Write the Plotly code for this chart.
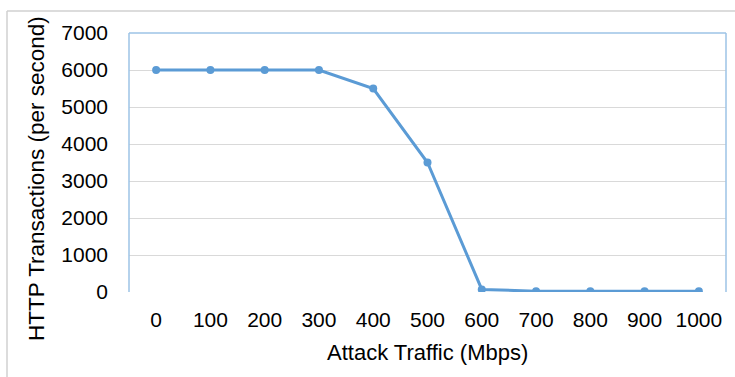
import plotly.graph_objects as go

categories = ["0", "100", "200", "300", "400", "500", "600", "700", "800", "900", "1000"]
transactions = [6000, 6000, 6000, 6000, 5500, 3500, 70, 20, 20, 20, 20]
y_ticks = [0, 1000, 2000, 3000, 4000, 5000, 6000, 7000]

W, H = 735, 377
L, R, T, B = 129, 9, 33, 85
pw, ph = W - L - R, H - T - B

def px_x(x):
    return (x - L) / pw

def px_y(y):
    return (H - B - y) / ph

fig = go.Figure()
fig.add_trace(go.Scatter(
    x=categories, y=transactions, mode="lines+markers",
    line=dict(color="#5B9BD5", width=3),
    marker=dict(color="#5B9BD5", size=8),
    showlegend=False,
))

font = dict(family="Liberation Sans, Arial, sans-serif", color="#000000")
fig.update_layout(
    width=W, height=H,
    margin=dict(l=L, r=R, t=T, b=B, autoexpand=False),
    paper_bgcolor="white", plot_bgcolor="white",
    font=font,
    xaxis=dict(
        type="category", range=[-0.5, len(categories) - 0.5],
        showgrid=False, zeroline=False, showline=False,
        tickfont=dict(size=21), ticks="", ticklabelstandoff=13,
        automargin=False,
    ),
    yaxis=dict(
        range=[0, 7000], tickvals=y_ticks, showgrid=True, gridcolor="#D9D9D9", gridwidth=1,
        zeroline=False, showline=False, tickfont=dict(size=21), ticks="",
        ticklabelstandoff=20,
        automargin=False,
    ),
    annotations=[
        dict(text="Attack Traffic (Mbps)", xref="paper", yref="paper",
             x=px_x(427), y=px_y(352), xanchor="center", yanchor="middle",
             showarrow=False, font=dict(size=22)),
        dict(text="HTTP Transactions (per second)", xref="paper", yref="paper",
             x=px_x(36), y=px_y(179), xanchor="center", yanchor="middle",
             textangle=-90, showarrow=False, font=dict(size=22.5)),
    ],
    shapes=[
        dict(type="line", xref="paper", yref="paper", x0=0, x1=0, y0=0, y1=1,
             line=dict(color="#9DC3E6", width=1.5)),
        dict(type="line", xref="paper", yref="paper", x0=0, x1=1, y0=1, y1=1,
             line=dict(color="#9DC3E6", width=1.5)),
        dict(type="line", xref="paper", yref="paper", x0=1, x1=1, y0=0, y1=1,
             line=dict(color="#9DC3E6", width=1.5)),
        dict(type="line", xref="paper", yref="paper", x0=px_x(7), x1=px_x(740), y0=px_y(11), y1=px_y(11),
             line=dict(color="#D0D0D0", width=1.5)),
        dict(type="line", xref="paper", yref="paper", x0=px_x(7), x1=px_x(7), y0=px_y(11), y1=px_y(380),
             line=dict(color="#D0D0D0", width=1.5)),
    ],
)

fig.write_html("out.html", config={"displayModeBar": False},
               post_script="document.body.style.margin='0';")
